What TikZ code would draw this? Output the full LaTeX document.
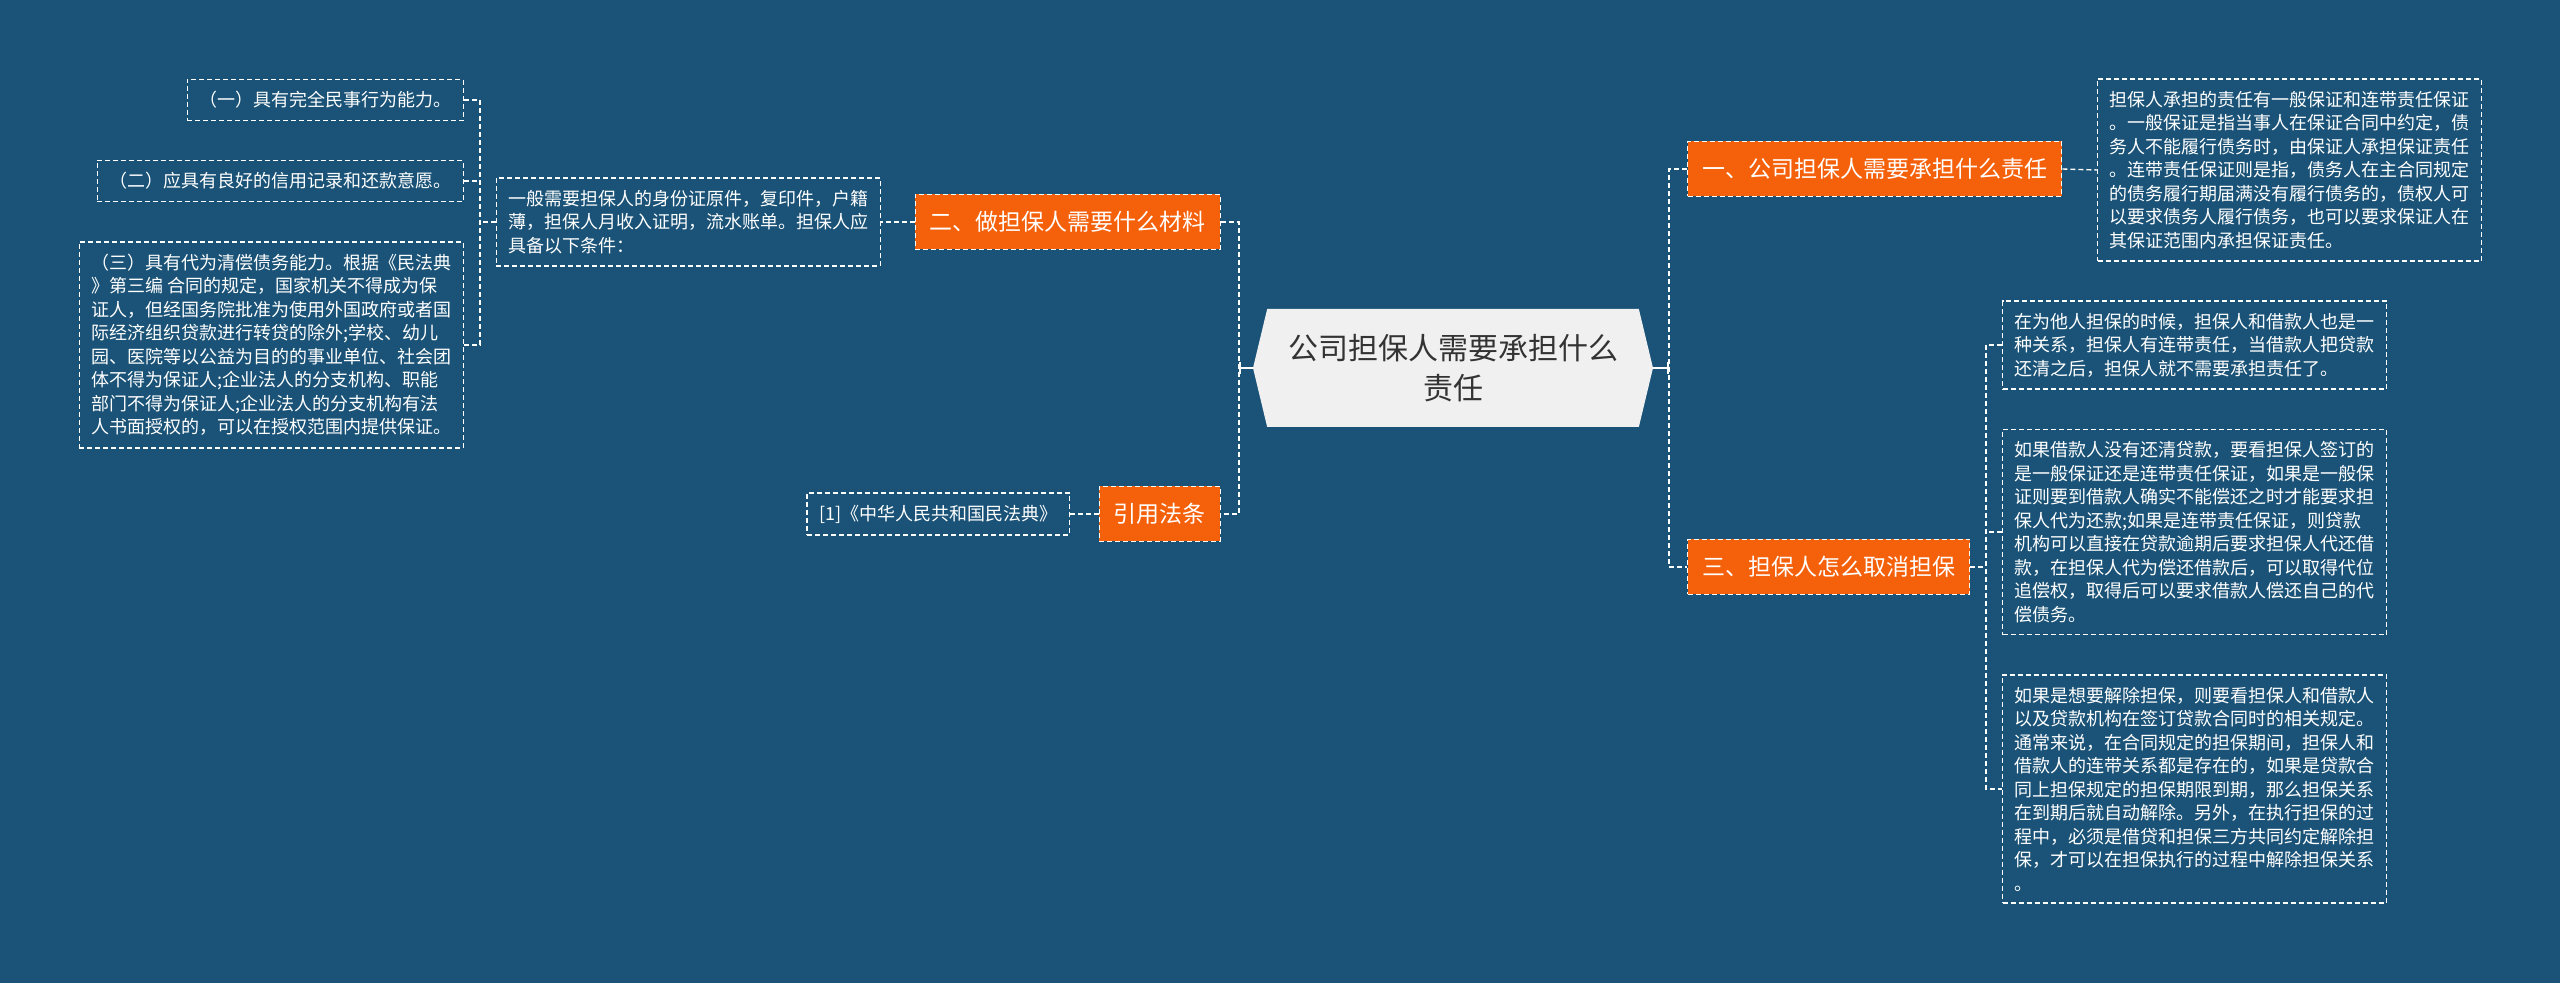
\documentclass[tikz,border=0pt]{standalone}
\usepackage{fontspec}
\setmainfont{Noto Sans CJK SC}
\usepackage{tikz}
\usetikzlibrary{arrows.meta,shapes.symbols}
\definecolor{mapblue}{HTML}{1A5377}
\definecolor{maporange}{HTML}{F5600A}
\definecolor{mapgray}{HTML}{F0F0F0}
\definecolor{maptext}{HTML}{333333}

\begin{document}
\begin{tikzpicture}[x=0.5pt, y=-0.5pt,
    link/.style={draw=white, line width=0.7pt, dash pattern=on 2.5pt off 1.5pt},
    hubline/.style={draw=white, line width=1pt, -{Bar[width=6pt]}},
    topic/.style={fill=maporange, draw=white, line width=0.7pt, dash pattern=on 2.5pt off 1.5pt, text=white, font=\fontsize{11.5}{14}\selectfont, inner xsep=7.25pt, minimum height=27.5pt},
    leaf/.style={draw=white, line width=0.7pt, dash pattern=on 2.5pt off 1.5pt, text=white, font=\fontsize{9}{11.75}\selectfont, align=left, inner xsep=6pt, inner ysep=6pt}]
      \fill[mapblue] (0,0) rectangle (2560,983);
      \useasboundingbox (0,0) rectangle (2560,983);

      % centre
      \node[shape=signal, signal to=west and east, signal pointer angle=153, fill=mapgray, text=maptext, align=center, font=\fontsize{15}{20}\selectfont, minimum width=200pt, minimum height=59pt, inner sep=0pt] (hub) at (1453,368) {公司担保人需要承担什么\\责任};

      % left side
      \node[topic, anchor=east] (m2) at (1221,222) {二、做担保人需要什么材料};
      \node[topic, anchor=east] (m4) at (1221,514) {引用法条};
      \node[leaf, anchor=east] (m2d) at (881,222) {一般需要担保人的身份证原件，复印件，户籍\\薄，担保人月收入证明，流水账单。担保人应\\具备以下条件：};
      \node[leaf, anchor=east] (c1) at (464,100) {（一）具有完全民事行为能力。};
      \node[leaf, anchor=east] (c2) at (464,181) {（二）应具有良好的信用记录和还款意愿。};
      \node[leaf, anchor=east] (c3) at (464,345) {（三）具有代为清偿债务能力。根据《民法典\\》第三编 合同的规定，国家机关不得成为保\\证人，但经国务院批准为使用外国政府或者国\\际经济组织贷款进行转贷的除外;学校、幼儿\\园、医院等以公益为目的的事业单位、社会团\\体不得为保证人;企业法人的分支机构、职能\\部门不得为保证人;企业法人的分支机构有法\\人书面授权的，可以在授权范围内提供保证。};
      \node[leaf, anchor=east] (law) at (1070,514) {[1]《中华人民共和国民法典》};

      % right side
      \node[topic, anchor=west] (r1) at (1687,169) {一、公司担保人需要承担什么责任};
      \node[topic, anchor=west] (r3) at (1687,567) {三、担保人怎么取消担保};
      \node[leaf, anchor=west] (r1d) at (2097,170) {担保人承担的责任有一般保证和连带责任保证\\。一般保证是指当事人在保证合同中约定，债\\务人不能履行债务时，由保证人承担保证责任\\。连带责任保证则是指，债务人在主合同规定\\的债务履行期届满没有履行债务的，债权人可\\以要求债务人履行债务，也可以要求保证人在\\其保证范围内承担保证责任。};
      \node[leaf, anchor=west] (ra) at (2002,345) {在为他人担保的时候，担保人和借款人也是一\\种关系，担保人有连带责任，当借款人把贷款\\还清之后，担保人就不需要承担责任了。};
      \node[leaf, anchor=west] (rb) at (2002,532) {如果借款人没有还清贷款，要看担保人签订的\\是一般保证还是连带责任保证，如果是一般保\\证则要到借款人确实不能偿还之时才能要求担\\保人代为还款;如果是连带责任保证，则贷款\\机构可以直接在贷款逾期后要求担保人代还借\\款，在担保人代为偿还借款后，可以取得代位\\追偿权，取得后可以要求借款人偿还自己的代\\偿债务。};
      \node[leaf, anchor=west] (rc) at (2002,789) {如果是想要解除担保，则要看担保人和借款人\\以及贷款机构在签订贷款合同时的相关规定。\\通常来说，在合同规定的担保期间，担保人和\\借款人的连带关系都是存在的，如果是贷款合\\同上担保规定的担保期限到期，那么担保关系\\在到期后就自动解除。另外，在执行担保的过\\程中，必须是借贷和担保三方共同约定解除担\\保，才可以在担保执行的过程中解除担保关系\\。};

      % bus points
      \coordinate (lbus) at (1239,368);
      \coordinate (rbus) at (1669,368);
      \coordinate (lsub) at (480,222);
      \coordinate (rsub) at (1986,567);

      % connectors
      \draw[hubline] (hub.west) -- (lbus);
      \draw[hubline] (hub.east) -- (rbus);
      \draw[link] (m2.east) -| (lbus) |- (m4.east);
      \draw[link] (r1.west) -| (rbus) |- (r3.west);
      \draw[link] (m2.west) -- (m2d.east);
      \draw[link] (m2d.west) -- (lsub);
      \draw[link] (c1.east) -| (lsub) |- (c3.east);
      \draw[link] (c2.east) -- (c2.east -| lsub);
      \draw[link] (m4.west) -- (law.east);
      \draw[link] (r1.east) -- (r1d.west);
      \draw[link] (r3.east) -- (rsub);
      \draw[link] (ra.west) -| (rsub) |- (rc.west);
      \draw[link] (rb.west) -- (rb.west -| rsub);
    \end{tikzpicture}
\end{document}
